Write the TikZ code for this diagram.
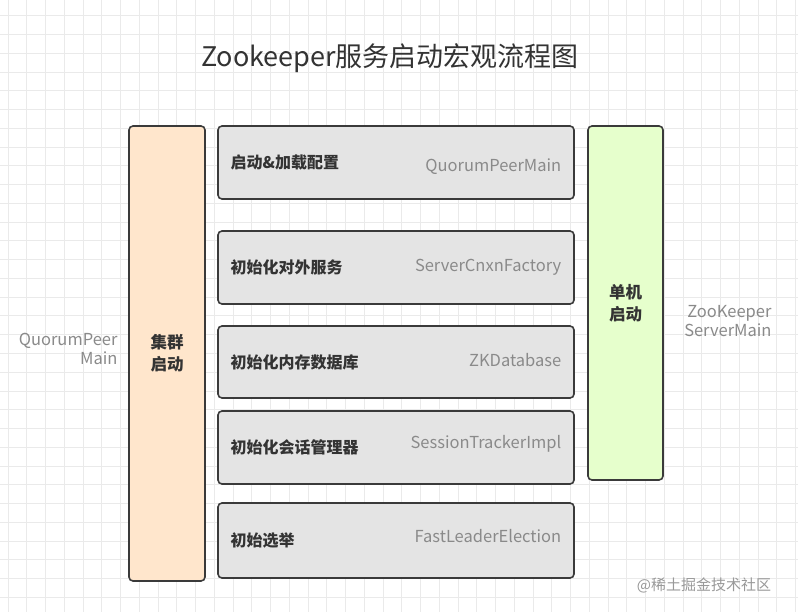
\documentclass[tikz,border=0pt]{standalone}
\usepackage{fontspec}
\setmainfont{Noto Sans CJK SC}
\usetikzlibrary{calc}
\definecolor{boxline}{HTML}{3A3A3A}
\definecolor{boxgray}{HTML}{E4E4E4}
\definecolor{boxorange}{HTML}{FFE6CC}
\definecolor{boxgreen}{HTML}{E6FFCC}
\definecolor{textgray}{HTML}{8A8A8A}
\definecolor{gridline}{HTML}{EAEAEA}
\tikzset{
  stepbox/.style={draw=boxline, line width=1.6pt, rounded corners=4pt, fill=boxgray},
  sidebox/.style={stepbox, font=\fontsize{16.5}{22}\selectfont\bfseries, text=black!80, align=center},
  stepname/.style={anchor=west, font=\fontsize{16}{20}\selectfont\bfseries, text=black!80},
  classname/.style={anchor=east, font=\fontsize{16.5}{19}\selectfont, text=textgray},
}

\begin{document}
\begin{tikzpicture}[x=1pt, y=-1pt]
      \useasboundingbox (0,0) rectangle (798,612);
      \fill[white] (0,0) rectangle (798,612);
      \draw[gridline, line width=0.6pt, xstep=18.75pt, ystep=18.75pt, shift={(8pt,-15.8pt)}] (-8,-15.8) grid (798,612);

      \node[font=\fontsize{27}{32}\selectfont, text=black!80] (title) at (390,58) {Zookeeper服务启动宏观流程图};

      \node[sidebox, fill=boxorange, minimum width=76pt, minimum height=455pt] (cluster) at (167,353.5) {集群\\启动};
      \node[sidebox, fill=boxgreen, minimum width=75pt, minimum height=354pt] (single) at (625.5,303) {单机\\启动};

      \node[stepbox, minimum width=356pt, minimum height=73pt] (load) at (396,162.5) {};
      \node[stepbox, minimum width=356pt, minimum height=73pt] (cnxn) at (396,267.5) {};
      \node[stepbox, minimum width=356pt, minimum height=72pt] (zkdb) at (396,362) {};
      \node[stepbox, minimum width=356pt, minimum height=73pt] (session) at (396,447.5) {};
      \node[stepbox, minimum width=356pt, minimum height=75pt] (elect) at (396,540.5) {};

      \node[stepname] (loadname) at ($(load.west)+(10,0)$) {启动\&加载配置};
      \node[stepname] (cnxnname) at ($(cnxn.west)+(10,0)$) {初始化对外服务};
      \node[stepname] (zkdbname) at ($(zkdb.west)+(10,0)$) {初始化内存数据库};
      \node[stepname] (sessionname) at ($(session.west)+(10,0)$) {初始化会话管理器};
      \node[stepname] (electname) at ($(elect.west)+(10,0)$) {初始选举};

      \node[classname] (loadclass) at ($(load.east)+(-10,4)$) {QuorumPeerMain};
      \node[classname] (cnxnclass) at ($(cnxn.east)+(-10,0)$) {ServerCnxnFactory};
      \node[classname] (zkdbclass) at ($(zkdb.east)+(-10,-2)$) {ZKDatabase};
      \node[classname] (sessionclass) at ($(session.east)+(-10,-4)$) {SessionTrackerImpl};
      \node[classname] (electclass) at ($(elect.east)+(-10,-4)$) {FastLeaderElection};

      \node[classname, align=right] (clustermain) at (121,349) {QuorumPeer\\Main};
      \node[classname, align=right] (singlemain) at (775,321) {ZooKeeper\\ServerMain};

      \node[text=black!40, font=\fontsize{15}{18}\selectfont] (mark) at (704,585) {@稀土掘金技术社区};
    \end{tikzpicture}
\end{document}
